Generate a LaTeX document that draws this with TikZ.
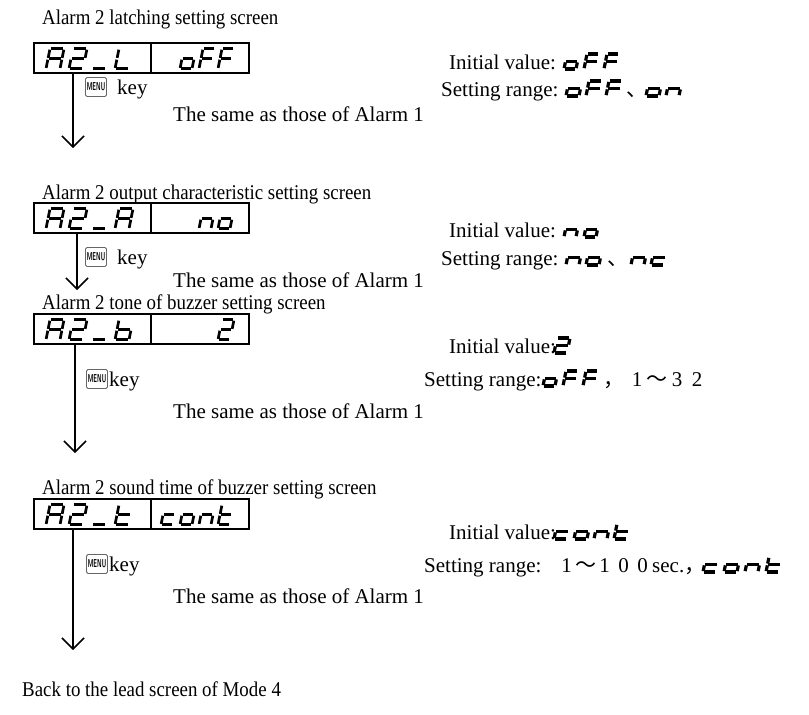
\documentclass[tikz,border=0pt]{standalone}
\usepackage{fontspec}
\setmainfont{Liberation Serif}
\newfontfamily\ttlfont{Liberation Serif}[FakeStretch=0.9]
\newfontfamily\cjk{Noto Sans CJK JP}
\usetikzlibrary{arrows.meta,calc}
% seven-segment coordinates (unit cell)
\def\spa{0/1/1/1}
\def\spb{1/1/1/0.5}
\def\spc{1/0.5/1/0}
\def\spd{0/0/1/0}
\def\spe{0/0/0/0.5}
\def\spf{0/0.5/0/1}
\def\spg{0/0.5/1/0.5}
% glyphs
\def\glA{a,b,c,e,f,g}
\expandafter\def\csname gl2\endcsname{a,b,g,e,d}
\def\glu{d}
\def\glL{f,e,d}
\def\glb{f,e,d,c,g}
\def\glt{f,e,d,g}
\def\glo{c,d,e,g}
\def\gln{e,g,c}
\def\glc{g,e,d}
\def\glF{a,f,g,e}
% #1 bottom-left coordinate, #2 pitch, #3 width, #4 height, #5 line width, #6 chars
\newcommand\segtext[6]{%
  \foreach \ch [count=\ci from 0] in {#6}{%
    \edef\seglist{\csname gl\ch\endcsname}%
    \begin{scope}[shift={#1},shift={(\ci*#2,0)},x={(#3pt,0pt)},y={({0.2*#4pt},#4pt)},line width=#5]
      \foreach \s in \seglist {%
        \edef\segc{\csname sp\s\endcsname}%
        \foreach \xa/\ya/\xb/\yb in \segc {\draw[segline] (\xa,\ya)--(\xb,\yb);}%
      }
    \end{scope}
  }}
\tikzset{
  segline/.style={line cap=butt, shorten <=0.9pt, shorten >=0.9pt},
  dispbox/.style={draw, line width=1.8pt, minimum width=215pt, minimum height=30pt, inner sep=0pt, anchor=north west},
  txt/.style={anchor=base west, font=\fontsize{21}{25}\selectfont, inner sep=0pt},
  ttl/.style={anchor=base west, font=\ttlfont\fontsize{21}{25}\selectfont, inner sep=0pt},
  cjktxt/.style={anchor=base west, font=\cjk\fontsize{21}{25}\selectfont, inner sep=0pt},
  keyicon/.style={draw=black!60, line width=0.9pt, rounded corners=1.5pt, minimum width=21pt, minimum height=19pt, inner sep=0pt, font=\sffamily\bfseries\fontsize{8.5}{8.5}\selectfont},
  flow/.style={line width=1.7pt, -{Straight Barb[length=11pt,width=22pt,line width=1.5pt]}},
  divider/.style={line width=1.8pt},
}
\newcommand\menukey{\scalebox{0.68}[1.35]{MENU}}
\begin{document}
\begin{tikzpicture}[x=1pt,y=-1pt]
\useasboundingbox (0,0) rectangle (809,715);
\fill[white] (0,0) rectangle (809,715);

% ---------- group 1
\node[ttl] (t1) at (42,24) {Alarm 2 latching setting screen};
\node[dispbox] (b1) at (33,42) {};
\draw[divider] ($(b1.north west)+(118,0)$) -- ($(b1.south west)+(118,0)$);
\segtext{($(b1.south west)+(13,-5)$)}{23}{14}{20}{2.7pt}{A,2,u,L}
\segtext{($(b1.south west)+(147,-5)$)}{19}{12}{20}{2.7pt}{o,F,F}
\coordinate (e1) at (73,148);
\draw[flow] (b1.south -| e1) -- (e1);
\node[keyicon] (k1) at (96,87) {\menukey};
\node[txt] (key1) at (117,94) {key};
\node[txt] (s1) at (173,121) {The same as those of Alarm 1};
\node[txt] (iv1) at (449,69) {Initial value:};
\segtext{(564,69)}{20}{12}{15}{3.2pt}{o,F,F}
\node[txt] (sr1) at (441,96) {Setting range:};
\segtext{(566,96)}{20}{13}{15}{3.2pt}{o,F,F}
\node[cjktxt] (c1) at (626,96) {、};
\segtext{(646,96)}{20}{13}{15}{3.2pt}{o,n}

% ---------- group 2
\node[ttl] (t2) at (42,199) {Alarm 2 output characteristic setting screen};
\node[dispbox] (b2) at (33,202) {};
\draw[divider] ($(b2.north west)+(118,0)$) -- ($(b2.south west)+(118,0)$);
\segtext{($(b2.south west)+(13,-5)$)}{23}{14}{20}{2.7pt}{A,2,u,A}
\segtext{($(b2.south west)+(166,-5)$)}{19}{12}{20}{2.7pt}{n,o}
\coordinate (e2) at (77,290);
\draw[flow] (b2.south -| e2) -- (e2);
\node[keyicon] (k2) at (96,257) {\menukey};
\node[txt] (key2) at (117,264) {key};
\node[txt] (s2) at (173,287) {The same as those of Alarm 1};
\node[txt] (iv2) at (449,237) {Initial value:};
\segtext{(564,237)}{20}{12}{15}{3.2pt}{n,o}
\node[txt] (sr2) at (441,265) {Setting range:};
\segtext{(566,265)}{20}{13}{15}{3.2pt}{n,o}
\node[cjktxt] (c2) at (607,265) {、};
\segtext{(631,265)}{20}{13}{15}{3.2pt}{n,c}

% ---------- group 3
\node[ttl] (t3) at (42,309) {Alarm 2 tone of buzzer setting screen};
\node[dispbox] (b3) at (33,313) {};
\draw[divider] ($(b3.north west)+(118,0)$) -- ($(b3.south west)+(118,0)$);
\segtext{($(b3.south west)+(13,-5)$)}{23}{14}{20}{2.7pt}{A,2,u,b}
\segtext{($(b3.south west)+(185,-5)$)}{19}{12}{20}{2.7pt}{2}
\coordinate (e3) at (75,453);
\draw[flow] (b3.south -| e3) -- (e3);
\node[keyicon] (k3) at (97,379) {\menukey};
\node[txt] (key3) at (109,386) {key};
\node[txt] (s3) at (173,418) {The same as those of Alarm 1};
\node[txt] (iv3) at (449,353) {Initial value:};
\segtext{(554,353)}{20}{13}{15}{3.2pt}{2}
\node[txt] (sr3) at (424,386) {Setting range:};
\segtext{(543,386)}{20}{12}{15}{3.2pt}{o,F,F}
\node[cjktxt] (c3) at (603,386) {，};
\node[txt] (r3) at (627,386) {\makebox[20pt]{1}\makebox[20pt]{\cjk ～}\makebox[20pt]{3}\makebox[20pt]{2}};

% ---------- group 4
\node[ttl] (t4) at (42,494) {Alarm 2 sound time of buzzer setting screen};
\node[dispbox] (b4) at (33,498) {};
\draw[divider] ($(b4.north west)+(118,0)$) -- ($(b4.south west)+(118,0)$);
\segtext{($(b4.south west)+(13,-5)$)}{23}{14}{20}{2.7pt}{A,2,u,t}
\segtext{($(b4.south west)+(128,-5)$)}{19}{12}{20}{2.7pt}{c,o,n,t}
\coordinate (e4) at (73,650);
\draw[flow] (b4.south -| e4) -- (e4);
\node[keyicon] (k4) at (97,564) {\menukey};
\node[txt] (key4) at (109,571) {key};
\node[txt] (s4) at (173,603) {The same as those of Alarm 1};
\node[txt] (iv4) at (449,539) {Initial value:};
\segtext{(554,539)}{20}{13}{15}{3.2pt}{c,o,n,t}
\node[txt] (sr4) at (424,572) {Setting range:};
\node[txt] (r4) at (557,572) {\makebox[19pt]{1}\makebox[19pt]{\cjk ～}\makebox[19pt]{1}\makebox[19pt]{0}\makebox[19pt]{0}sec.{\cjk ，}};
\segtext{(703,572)}{21}{13}{15}{3.2pt}{c,o,n,t}

% ---------- end
\node[ttl] (back) at (22,696) {Back to the lead screen of Mode 4};
\end{tikzpicture}
\end{document}
